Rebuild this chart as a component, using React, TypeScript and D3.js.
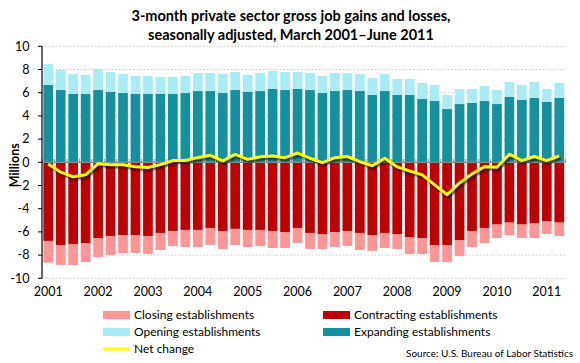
import React from "react";
import * as d3 from "d3";

const quarters = d3.range(42).map((i) => `${2001 + Math.floor(i / 4)}Q${(i % 4) + 1}`);
const yearLabels = ["2001","2002","2003","2004","2005","2006","2007","2008","2009","2010","2011"];
const yTicks = [10, 8, 6, 4, 2, 0, -2, -4, -6, -8, -10];

// Expanding establishments (top of teal part), millions
const expanding = [6.66,6.23,5.89,5.89,6.23,6.06,5.97,5.89,5.89,5.89,5.89,5.97,6.14,6.14,5.97,6.23,6.06,6.14,6.32,6.23,6.32,6.23,5.97,6.14,6.23,6.14,5.80,6.14,5.80,5.80,5.46,5.28,4.59,5.02,5.11,5.28,5.02,5.63,5.37,5.54,5.20,5.54];
// Opening establishments (stacked above expanding)
const opening = [1.81,1.73,1.72,1.64,1.81,1.72,1.64,1.55,1.55,1.47,1.47,1.47,1.56,1.56,1.64,1.55,1.47,1.56,1.55,1.55,1.46,1.47,1.47,1.56,1.47,1.47,1.47,1.47,1.38,1.38,1.38,1.38,1.21,1.30,1.21,1.30,1.21,1.29,1.29,1.38,1.12,1.30];
// Contracting establishments (losses, millions)
const contracting = [6.78,7.13,7.04,6.96,6.53,6.35,6.27,6.27,6.35,6.09,5.92,5.83,5.83,5.66,5.92,5.74,5.83,5.83,5.92,6.01,5.66,6.09,6.18,6.01,5.92,6.09,6.27,6.09,6.18,6.44,6.53,7.13,7.13,6.70,5.92,5.66,5.37,5.20,5.37,5.28,5.11,5.20];
// Closing establishments (stacked below contracting)
const closing = [1.88,1.72,1.81,1.63,1.63,1.64,1.55,1.55,1.55,1.47,1.29,1.47,1.47,1.47,1.55,1.39,1.47,1.38,1.47,1.38,1.30,1.38,1.29,1.29,1.29,1.47,1.37,1.30,1.29,1.46,1.37,1.46,1.46,1.37,1.38,1.30,1.16,1.07,1.16,1.25,1.07,1.15];
// Net change
const netChange = [-0.15,-0.85,-1.25,-1.08,-0.12,-0.21,-0.22,-0.38,-0.45,-0.2,0.15,0.15,0.4,0.6,0.12,0.68,0.25,0.47,0.55,0.4,0.8,0.35,-0.03,0.4,0.5,0.05,-0.3,0.35,-0.4,-0.75,-1.08,-1.95,-2.8,-1.78,-1.0,-0.38,-0.42,0.7,0.14,0.5,0.14,0.55];

const C_OPEN = "#A8ECF5";
const C_EXP = "#13919E";
const C_CONT = "#C00000";
const C_CLOSE = "#FF9595";
const FONT = "Lato, 'Open Sans', sans-serif";

export default function App() {
  const W = 580, H = 363;
  const x0 = 42, x1 = 565.5;
  const x = d3.scaleBand<number>().domain(d3.range(42)).range([x0, x1]).paddingInner(0.22).paddingOuter(0.11);
  const y = d3.scaleLinear().domain([-10, 10]).range([278.3, 46.3]);
  const y0 = y(0);
  const bw = x.bandwidth();
  const cx = (i: number) => (x(i) as number) + bw / 2;

  const line = d3.line<number>().x((_, i) => cx(i)).y((d) => y(d));
  const netPath = line(netChange) || "";

  const boundaries = d3.range(43).map((i) => x0 + (i * (x1 - x0)) / 42);

  return (
    <svg width={W} height={H} style={{ position: "absolute", left: 0, top: 0, background: "#fff" }} fontFamily={FONT}>
      <defs>
        <filter id="blur" x="-10%" y="-10%" width="120%" height="120%">
          <feGaussianBlur stdDeviation="0.9" />
        </filter>
      </defs>
      <text x={291} y={21} textAnchor="middle" fontWeight="bold" fontSize={14.5} fill="#000">
        3-month private sector gross job gains and losses,
      </text>
      <text x={291} y={40} textAnchor="middle" fontWeight="bold" fontSize={14.5} fill="#000">
        seasonally adjusted, March 2001–June 2011
      </text>

      {/* gridlines */}
      {yTicks.filter((t) => t !== 0).map((t) => (
        <line key={t} x1={x0} x2={x1} y1={y(t)} y2={y(t)} stroke="#C8C8C8" strokeWidth={1} strokeDasharray="1.5,2" />
      ))}

      {/* bars */}
      {quarters.map((q, i) => (
        <g key={q}>
          <rect x={x(i)} width={bw} y={y(expanding[i] + opening[i])} height={y(expanding[i]) - y(expanding[i] + opening[i])} fill={C_OPEN} />
          <rect x={x(i)} width={bw} y={y(expanding[i])} height={y0 - y(expanding[i])} fill={C_EXP} />
          <rect x={x(i)} width={bw} y={y0} height={y(-contracting[i]) - y0} fill={C_CONT} />
          <rect x={x(i)} width={bw} y={y(-contracting[i])} height={y(-contracting[i] - closing[i]) - y(-contracting[i])} fill={C_CLOSE} />
        </g>
      ))}

      {/* zero axis */}
      <line x1={x0} x2={x1} y1={y0} y2={y0} stroke="#8A8A8A" strokeWidth={1.3} />
      {boundaries.map((b, i) => (
        <line key={i} x1={b} x2={b} y1={y0} y2={y0 - 3.5} stroke="#8A8A8A" strokeWidth={1} />
      ))}

      {/* y axis */}
      <line x1={x0} x2={x0} y1={y(10)} y2={y(-10)} stroke="#000" strokeWidth={1.2} />
      {yTicks.map((t) => (
        <g key={t}>
          <line x1={x0 - 4} x2={x0} y1={y(t)} y2={y(t)} stroke="#000" strokeWidth={1} />
          <text x={29.5} y={y(t)} dy="0.35em" textAnchor="end" fontSize={12.5} fill="#000">{t}</text>
        </g>
      ))}
      <text transform={`translate(15,${y0 + 3}) rotate(-90)`} textAnchor="middle" fontWeight="bold" fontSize={12.5} dy="0.35em" fill="#000">Millions</text>

      {/* x labels */}
      {yearLabels.map((yr, k) => (
        <text key={yr} x={cx(k * 4)} y={292} dy="0.35em" textAnchor="middle" fontSize={12.5} fill="#000">{yr}</text>
      ))}

      {/* net change line */}
      <path d={netPath} transform="translate(1.5,2)" fill="none" stroke="#000" strokeOpacity={0.75} strokeWidth={3} filter="url(#blur)" strokeLinejoin="round" />
      <path d={netPath} fill="none" stroke="#FFFF00" strokeWidth={3} strokeLinejoin="round" />

      {/* legend */}
      <g fontSize={12} fill="#000">
        <rect x={103} y={311} width={27} height={8} fill={C_CLOSE} />
        <text x={134} y={315} dy="0.35em">Closing establishments</text>
        <rect x={323} y={311} width={27} height={8} fill={C_CONT} />
        <text x={354} y={315} dy="0.35em">Contracting establishments</text>
        <rect x={103} y={328} width={27} height={8} fill={C_OPEN} />
        <text x={134} y={332} dy="0.35em">Opening establishments</text>
        <rect x={323} y={328} width={27} height={8} fill={C_EXP} />
        <text x={354} y={332} dy="0.35em">Expanding establishments</text>
        <line x1={103} x2={130} y1={349} y2={349} stroke="#FFFF00" strokeWidth={3} />
        <text x={134} y={349} dy="0.35em">Net change</text>
      </g>
      <text x={573} y={353} dy="0.35em" textAnchor="end" fontSize={10} fill="#000">Source: U.S. Bureau of Labor Statistics</text>
    </svg>
  );
}
